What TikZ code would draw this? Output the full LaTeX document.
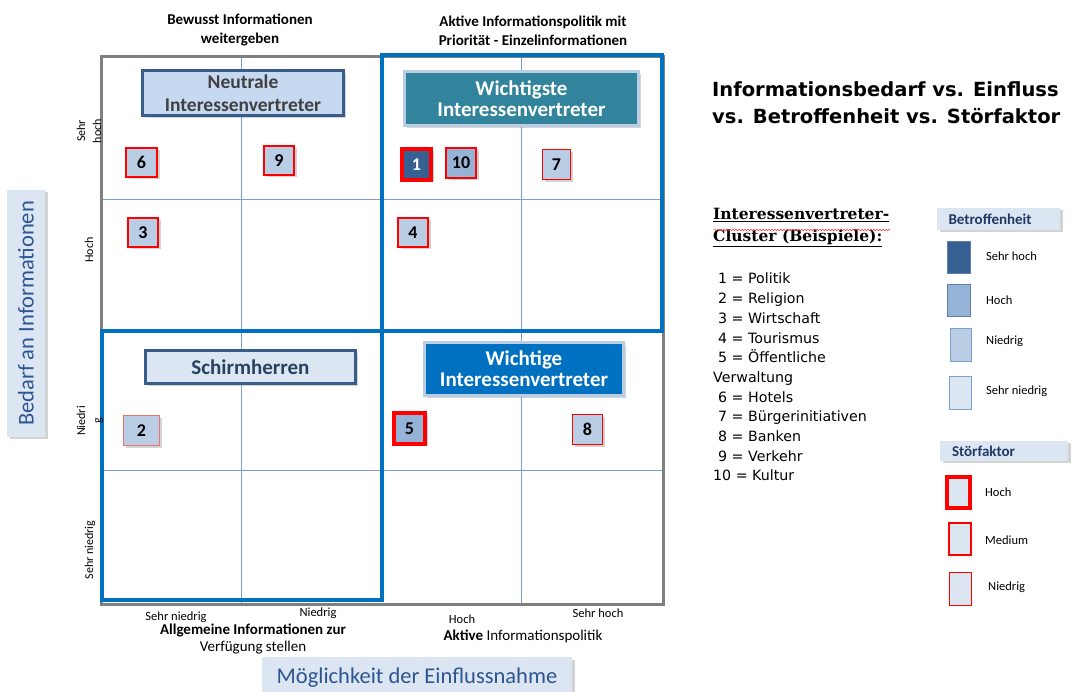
\documentclass[tikz,border=0pt]{standalone}
\usepackage{fontspec}
\setmainfont{Carlito}
\newfontfamily\titelfont{DejaVu Sans}
\newfontfamily\kopffont{DejaVu Serif}
\usetikzlibrary{shadows,positioning,decorations.pathmorphing}

\definecolor{rahmengrau}{HTML}{7F7F7F}
\definecolor{rahmenblau}{HTML}{0070C0}
\definecolor{gitterblau}{HTML}{7A9FD1}
\definecolor{schiefer}{HTML}{385D8A}
\definecolor{hellrand}{HTML}{B9CDE5}
\definecolor{petrol}{HTML}{31849B}
\definecolor{sehrhochblau}{HTML}{376092}
\definecolor{hochblau}{HTML}{95B3D7}
\definecolor{niedrigblau}{HTML}{B9CDE5}
\definecolor{sehrniedrigblau}{HTML}{DCE6F2}
\definecolor{neutralblau}{HTML}{C6D9F1}
\definecolor{achsentext}{HTML}{2C5592}
\definecolor{kopfblau}{HTML}{1F3864}
\definecolor{lachs}{HTML}{F07070}

\begin{document}
\begin{tikzpicture}[x=1pt,y=-1pt]
\tikzstyle{schatten}=[drop shadow={shadow xshift=2.5pt,shadow yshift=-2.5pt,opacity=.35}]
\tikzstyle{nr}=[draw=red,fill=niedrigblau,inner sep=0pt,schatten,
font=\bfseries\fontsize{18}{18}\selectfont]
\tikzstyle{hochS}=[line width=4pt]
\tikzstyle{mediumS}=[line width=2pt]
\tikzstyle{niedrigS}=[line width=1pt]
\tikzstyle{gruppe}=[line width=3pt,inner sep=0pt,align=center,schatten,
font=\bfseries\fontsize{21}{21}\selectfont]
\tikzstyle{tick}=[font=\fontsize{12.5}{12.5}\selectfont,inner sep=0pt]
\tikzstyle{vtick}=[tick,rotate=90,align=center,font=\fontsize{12}{16}\selectfont]
\tikzstyle{achse}=[fill=sehrniedrigblau,text=achsentext,inner sep=0pt,schatten,
font=\fontsize{22.5}{22.5}\selectfont]
\tikzstyle{legkopf}=[fill=sehrniedrigblau,text=kopfblau,inner sep=0pt,align=left,
schatten,font=\bfseries\fontsize{15}{15}\selectfont]
\tikzstyle{legtext}=[tick,anchor=west]

\useasboundingbox (0,0) rectangle (1074,692);

% Raster und Rahmen
\draw[gitterblau,line width=1pt] (241,57) -- (241,604) (521,57) -- (521,604)
  (101,200) -- (663,200) (101,471) -- (663,471);
\draw[rahmengrau,line width=3pt] (101,57) rectangle (663,604);
\draw[rahmenblau,line width=4pt] (382,55) rectangle (662,331);
\draw[rahmenblau,line width=4pt] (102,331) rectangle (382,600);

% Gruppen
\node[gruppe,draw=schiefer,fill=neutralblau,text=black!75,minimum width=201pt,
minimum height=45pt,font=\bfseries\fontsize{19.5}{22.5}\selectfont] at (243,93) (neutral)
  {Neutrale\\Interessenvertreter};
\node[gruppe,draw=hellrand,fill=petrol,text=white,minimum width=234pt,
minimum height=54pt] at (521.5,98.5) (wichtigste) {Wichtigste\\Interessenvertreter};
\node[gruppe,draw=schiefer,fill=sehrniedrigblau,text=schiefer!70!black,minimum width=210pt,
minimum height=33pt] at (250.5,367) (schirm) {Schirmherren};
\node[gruppe,draw=hellrand,fill=rahmenblau,text=white,minimum width=199pt,
minimum height=53pt] at (524,369) (wichtige) {Wichtige\\Interessenvertreter};

% Interessenvertreter
\node[nr,mediumS,minimum width=31pt,minimum height=29pt] at (141.5,162.5) (6) {6};
\node[nr,mediumS,minimum width=30pt,minimum height=29pt] at (279,160.5) (9) {9};
\node[nr,mediumS,minimum width=30pt,minimum height=29pt] at (143,232.5) (3) {3};
\node[nr,hochS,fill=sehrhochblau,text=white,minimum width=29pt,minimum height=31pt]
  at (416.5,164.5) (1) {1};
\node[nr,mediumS,fill=hochblau,minimum width=30pt,minimum height=30pt] at (461,163) (10) {10};
\node[nr,niedrigS,minimum width=28pt,minimum height=30pt] at (556.5,164.5) (7) {7};
\node[nr,mediumS,minimum width=30pt,minimum height=29pt] at (413,232.5) (4) {4};
\node[nr,niedrigS,draw=lachs,minimum width=36pt,minimum height=30pt] at (141.5,430.5) (2) {2};
\node[nr,hochS,fill=hochblau,minimum width=31pt,minimum height=31pt] at (409.5,428.5) (5) {5};
\node[nr,niedrigS,minimum width=30pt,minimum height=30pt] at (587.5,429.5) (8) {8};

% Achsen
\node[vtick] at (89,131) (ySehrhoch) {Sehr\\hoch};
\node[vtick] at (89,250) (yHoch) {Hoch};
\node[vtick] at (90,421) (yNiedrig) {Niedri\\g};
\node[vtick] at (90,550) (ySehrniedrig) {Sehr niedrig};
\node[tick] at (176,617) (xSehrniedrig) {Sehr niedrig};
\node[tick] at (318,613) (xNiedrig) {Niedrig};
\node[tick] at (462,619) (xHoch) {Hoch};
\node[tick] at (598,613) (xSehrhoch) {Sehr hoch};

\node[align=center,font=\bfseries\fontsize{15}{18.5}\selectfont] at (240,30) (oben1)
  {Bewusst Informationen\\weitergeben};
\node[align=center,font=\bfseries\fontsize{15}{18.5}\selectfont] at (533,31) (oben2)
  {Aktive Informationspolitik mit\\Priorität - Einzelinformationen};
\node[align=center,font=\fontsize{15}{17}\selectfont] at (253,639) (unten1)
  {\textbf{Allgemeine Informationen zur}\\Verfügung stellen};
\node[font=\fontsize{15}{17}\selectfont] at (523,636) (unten2)
  {\textbf{Aktive} Informationspolitik};

\node[achse,rotate=90,minimum width=247pt,minimum height=38pt] at (26,313.5) (bedarf)
  {Bedarf an Informationen};
\node[achse,minimum width=310pt,minimum height=42pt] at (417,678) (einfluss)
  {Möglichkeit der Einflussnahme};

% Titel und Liste
\node[anchor=west,align=left,inner sep=0pt,font=\titelfont\bfseries\fontsize{19.5}{27}\selectfont]
  at (712,103) (titel) {Informationsbedarf vs. Einfluss\\vs. Betroffenheit vs. Störfaktor};
\node[anchor=north west,align=left,inner sep=0pt,font=\kopffont\bfseries\fontsize{15.5}{22}\selectfont]
  at (713,208) (cluster) {\underline{Interessenvertreter-}\\\underline{Cluster (Beispiele):}};
\draw[red!80,line width=.6pt,decorate,decoration={snake,amplitude=.7pt,segment length=3pt}]
  (714,230) -- (890,230);
\node[anchor=north west,align=left,inner sep=0pt,font=\titelfont\fontsize{14.2}{19.7}\selectfont]
  at (713,273) (liste) {\hspace*{5pt}1 = Politik\\
  \hspace*{5pt}2 = Religion\\
  \hspace*{5pt}3 = Wirtschaft\\
  \hspace*{5pt}4 = Tourismus\\
  \hspace*{5pt}5 = Öffentliche\\
  Verwaltung\\
  \hspace*{5pt}6 = Hotels\\
  \hspace*{5pt}7 = Bürgerinitiativen\\
  \hspace*{5pt}8 = Banken\\
  \hspace*{5pt}9 = Verkehr\\
  10 = Kultur};

% Legende Betroffenheit
\node[legkopf,minimum width=123pt,minimum height=22pt,text width=100pt] at (998.5,219) (betr)
  {Betroffenheit};
\node[draw=sehrhochblau!80!white,fill=sehrhochblau,minimum width=23pt,minimum height=32pt,
inner sep=0pt] at (959,257.5) (bSehrhoch) {};
\node[draw=gitterblau!80!black,fill=hochblau,minimum width=23pt,minimum height=32pt,
inner sep=0pt] at (959,300.5) (bHoch) {};
\node[draw=gitterblau,fill=niedrigblau,minimum width=21pt,minimum height=33pt,
inner sep=0pt] at (961,345) (bNiedrig) {};
\node[draw=gitterblau,fill=sehrniedrigblau,minimum width=22pt,minimum height=33pt,
inner sep=0pt] at (960.5,393) (bSehrniedrig) {};
\node[legtext] at (986,256) (lSehrhoch) {Sehr hoch};
\node[legtext] at (986,300) (lHoch) {Hoch};
\node[legtext] at (986,341) (lNiedrig) {Niedrig};
\node[legtext] at (986,391) (lSehrniedrig) {Sehr niedrig};

% Legende Stoerfaktor
\node[legkopf,minimum width=128pt,minimum height=20pt,text width=104pt] at (1004,451) (stoer)
  {Störfaktor};
\node[draw=red,hochS,fill=sehrniedrigblau,minimum width=23pt,minimum height=31pt,
inner sep=0pt] at (958.5,492.5) (sHoch) {};
\node[draw=red,mediumS,fill=sehrniedrigblau,minimum width=22pt,minimum height=32pt,
inner sep=0pt] at (960,539) (sMedium) {};
\node[draw=red,niedrigS,fill=sehrniedrigblau,minimum width=22pt,minimum height=33pt,
inner sep=0pt] at (960.5,589) (sNiedrig) {};
\node[legtext] at (985,492) (lsHoch) {Hoch};
\node[legtext] at (985,540) (lsMedium) {Medium};
\node[legtext] at (988,587) (lsNiedrig) {Niedrig};

\end{tikzpicture}
\end{document}
